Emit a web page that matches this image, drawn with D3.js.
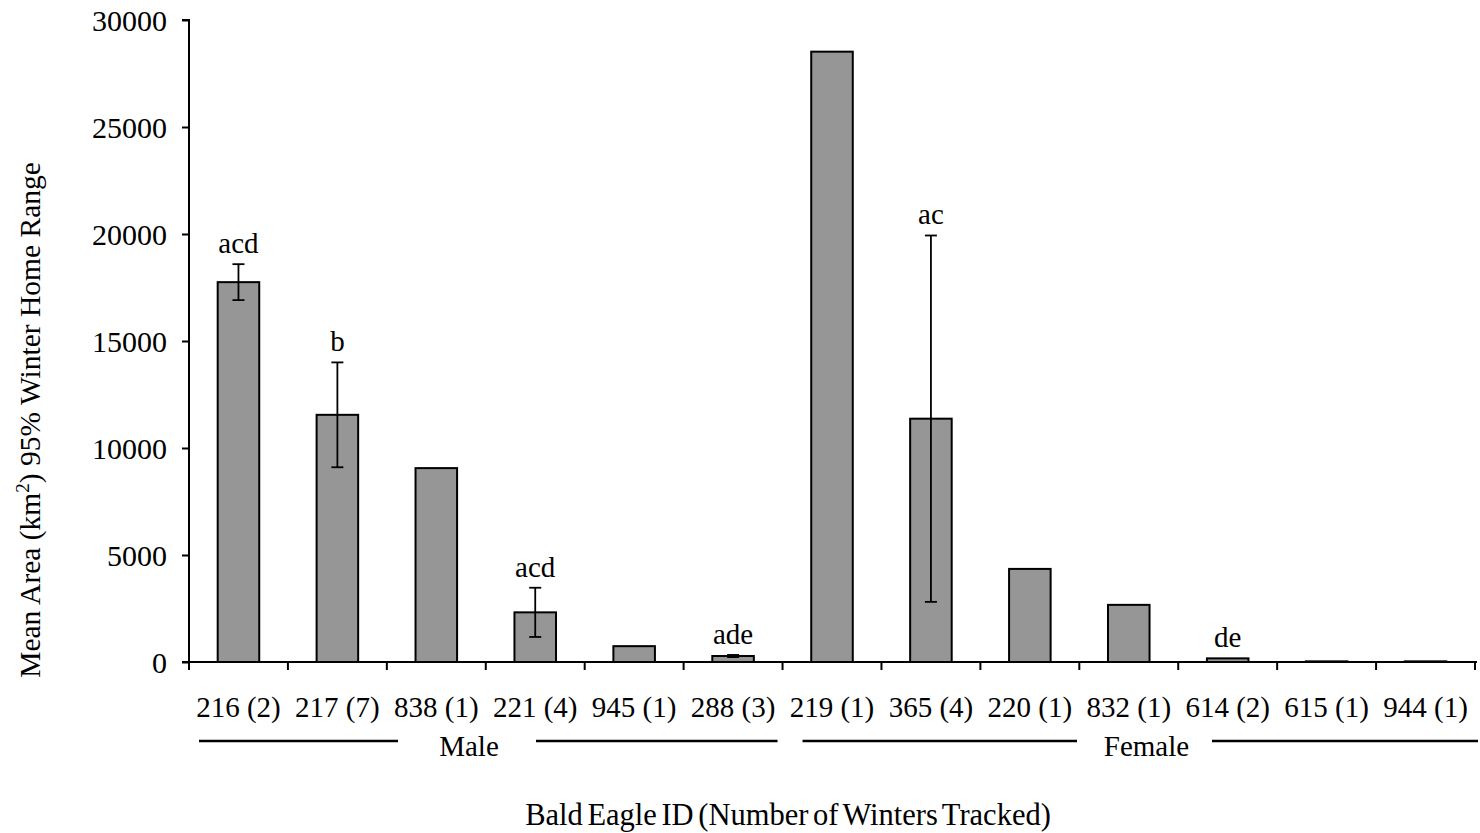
<!DOCTYPE html>
<html>
<head>
<meta charset="utf-8">
<script src="https://cdn.jsdelivr.net/npm/d3@7/dist/d3.min.js"></script>
<style>
  html, body { margin: 0; padding: 0; background: #ffffff; }
  svg { display: block; }
  text { font-family: "Liberation Serif", "Times New Roman", serif; fill: #000; }
</style>
</head>
<body>
<svg id="chart" width="1480" height="833"></svg>
<script>
// Eagle IDs with number of winters tracked
const categories = ["216 (2)", "217 (7)", "838 (1)", "221 (4)", "945 (1)", "288 (3)",
                    "219 (1)", "365 (4)", "220 (1)", "832 (1)", "614 (2)", "615 (1)", "944 (1)"];
// Mean 95% winter home range area (km²)
const meanArea = [17750, 11550, 9060, 2320, 740, 280, 28520, 11370, 4350, 2670, 170, 30, 30];
// Error bar half-widths (null where no error bar is drawn)
const errors = [840, 2450, null, 1150, null, 50, null, 8560, null, null, null, null, null];
// Significance letters
const letters = ["acd", "b", "", "acd", "", "ade", "", "ac", "", "", "de", "", ""];
// Sex groups (index range of categories)
const groups = [
  { name: "Male", from: 0, to: 5 },
  { name: "Female", from: 6, to: 12 }
];
const yTicks = [0, 5000, 10000, 15000, 20000, 25000, 30000];

const svg = d3.select("#chart");
const plotLeft = 189, plotRight = 1475, plotTop = 20, plotBottom = 662;

const x = d3.scaleBand().domain(categories).range([plotLeft, plotRight])
  .paddingInner(0.58).paddingOuter(0.29);
const y = d3.scaleLinear().domain([0, 30000]).range([plotBottom, plotTop]);
const step = x.step();
const bandStart = i => plotLeft + i * step;

// Bars
svg.append("g").selectAll("rect")
  .data(categories)
  .join("rect")
  .attr("x", d => x(d))
  .attr("y", (d, i) => y(meanArea[i]))
  .attr("width", x.bandwidth())
  .attr("height", (d, i) => y(0) - y(meanArea[i]))
  .attr("fill", "#969696")
  .attr("stroke", "#000")
  .attr("stroke-width", 2);

// Error bars
const errData = categories.map((c, i) => ({ c, m: meanArea[i], e: errors[i] })).filter(d => d.e != null);
const eg = svg.append("g").attr("stroke", "#000").attr("stroke-width", 1.8);
errData.forEach(d => {
  const cx = x(d.c) + x.bandwidth() / 2;
  const y1 = y(d.m + d.e), y0 = y(d.m - d.e);
  eg.append("line").attr("x1", cx).attr("x2", cx).attr("y1", y1).attr("y2", y0);
  eg.append("line").attr("x1", cx - 6).attr("x2", cx + 6).attr("y1", y1).attr("y2", y1);
  eg.append("line").attr("x1", cx - 6).attr("x2", cx + 6).attr("y1", y0).attr("y2", y0);
});

// Significance letters above bars / error bars
svg.append("g").selectAll("text")
  .data(categories)
  .join("text")
  .attr("x", d => x(d) + x.bandwidth() / 2)
  .attr("y", (d, i) => y(meanArea[i] + (errors[i] || 0)) - 11)
  .attr("text-anchor", "middle")
  .attr("font-size", 29)
  .text((d, i) => letters[i]);

// Y axis
const yAxis = d3.axisLeft(y).tickValues(yTicks).tickSize(7).tickPadding(15).tickFormat(d3.format("d"));
const yg = svg.append("g").attr("transform", `translate(${plotLeft},0)`).call(yAxis);
yg.select(".domain").attr("stroke-width", 2).attr("d", `M-7,${plotTop}H0V${plotBottom}`);
yg.selectAll(".tick line").attr("stroke-width", 2);
yg.selectAll(".tick text").attr("font-size", 30).attr("font-family", "Liberation Serif").attr("dy", "0.34em");

// X axis line with ticks at band boundaries
const xg = svg.append("g").attr("stroke", "#000").attr("stroke-width", 2);
xg.append("line").attr("x1", plotLeft - 7).attr("x2", plotRight + 2).attr("y1", plotBottom).attr("y2", plotBottom);
d3.range(categories.length + 1).forEach(i => {
  const tx = bandStart(i);
  xg.append("line").attr("x1", tx).attr("x2", tx).attr("y1", plotBottom).attr("y2", plotBottom + 8);
});

// Category labels
svg.append("g").selectAll("text")
  .data(categories)
  .join("text")
  .attr("x", d => x(d) + x.bandwidth() / 2)
  .attr("y", 717)
  .attr("text-anchor", "middle")
  .attr("font-size", 29)
  .text(d => d);

// Group labels with underline segments
const groupLayout = {
  Male:   { lineStart: 10, lineEnd: -5, gapLeft: 398, gapRight: 536 },
  Female: { lineStart: 20, lineEnd: 3,  gapLeft: 1077, gapRight: 1212 }
};
groups.forEach(g => {
  const L = groupLayout[g.name];
  const x0 = bandStart(g.from) + L.lineStart;
  const x1 = bandStart(g.to + 1) + L.lineEnd;
  const gg = svg.append("g");
  gg.append("line").attr("x1", x0).attr("x2", L.gapLeft).attr("y1", 741).attr("y2", 741)
    .attr("stroke", "#000").attr("stroke-width", 2.5);
  gg.append("line").attr("x1", L.gapRight).attr("x2", x1).attr("y1", 741).attr("y2", 741)
    .attr("stroke", "#000").attr("stroke-width", 2.5);
  gg.append("text").attr("x", (L.gapLeft + L.gapRight) / 2 + 2).attr("y", 756)
    .attr("text-anchor", "middle").attr("font-size", 29).text(g.name);
});

// Axis titles
svg.append("text")
  .attr("x", 788).attr("y", 825)
  .attr("text-anchor", "middle")
  .attr("font-size", 30.5)
  .attr("word-spacing", "-3")
  .text("Bald Eagle ID (Number of Winters Tracked)");

const yt = svg.append("text")
  .attr("transform", "translate(40,420) rotate(-90)")
  .attr("text-anchor", "middle")
  .attr("font-size", 29.5);
yt.append("tspan").text("Mean Area (km");
yt.append("tspan").attr("font-size", 19).attr("dy", -11).text("2");
yt.append("tspan").attr("dy", 11).text(") 95% Winter Home Range");
</script>
</body>
</html>
